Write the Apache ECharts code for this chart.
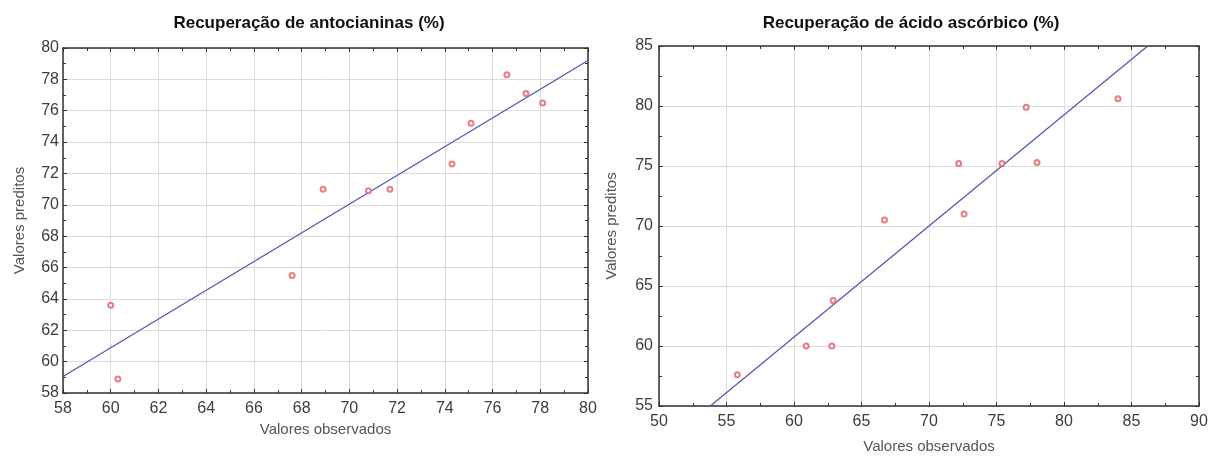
<!DOCTYPE html>
<html>
<head>
<meta charset="utf-8">
<script src="https://cdn.jsdelivr.net/npm/echarts@6/dist/echarts.min.js"></script>
<style>
  html, body { margin: 0; padding: 0; background: #ffffff; }
  #chart { width: 1213px; height: 464px; }
</style>
</head>
<body>
<div id="chart"></div>
<script>
// Recuperação de antocianinas: observed vs predicted
const antObs  = [60.0, 60.3, 67.6, 68.9, 70.8, 71.7, 74.3, 75.1, 76.6, 77.4, 78.1];
const antPred = [63.6, 58.9, 65.5, 71.0, 70.9, 71.0, 72.6, 75.2, 78.3, 77.1, 76.5];
const antFitX = [58, 80];
const antFitY = [59.05, 79.2];

// Recuperação de ácido ascórbico: observed vs predicted
const ascObs  = [55.8, 60.9, 62.8, 62.9, 66.7, 72.2, 72.6, 75.4, 77.2, 78.0, 84.0];
const ascPred = [57.6, 60.0, 60.0, 63.8, 70.5, 75.2, 71.0, 75.2, 79.9, 75.3, 80.6];
const ascFitX = [53.8, 86.2];
const ascFitY = [55, 85];

// Axis ranges
const antRange = { min: 58, max: 80, step: 2 };
const ascXRange = { min: 50, max: 90, step: 5 };
const ascYRange = { min: 55, max: 85, step: 5 };

const titles = ['Recuperação de antocianinas (%)', 'Recuperação de ácido ascórbico (%)'];
const xName = 'Valores observados';
const yName = 'Valores preditos';

const FONT = '"Liberation Sans", Arial, sans-serif';
const frameColor = '#333333';
const gridColor = '#dcdcdc';
const pointColor = '#e25c6a';
const fitColor = '#5252b4';

function zip(xs, ys) { return xs.map((x, i) => [x, ys[i]]); }

function mainAxis(range, opts) {
  return Object.assign({
    type: 'value',
    min: range.min, max: range.max, interval: range.step,
    axisLine: { show: true, onZero: false, lineStyle: { color: frameColor, width: 1.5 } },
    axisTick: { show: true, inside: true, length: 4, lineStyle: { color: frameColor } },
    minorTick: { show: true, splitNumber: 2, length: 3, lineStyle: { color: frameColor } },
    splitLine: { show: true, lineStyle: { color: gridColor, width: 1 } },
    nameLocation: 'middle',
    nameTextStyle: { color: '#555555', fontFamily: FONT, fontSize: 15 }
  }, opts);
}

function mirrorAxis(range, opts) {
  return Object.assign({
    type: 'value',
    min: range.min, max: range.max, interval: range.step,
    axisLine: { show: true, onZero: false, lineStyle: { color: frameColor, width: 1.5 } },
    axisTick: { show: true, inside: true, length: 4, lineStyle: { color: frameColor } },
    minorTick: { show: true, splitNumber: 2, length: 3, lineStyle: { color: frameColor } },
    splitLine: { show: false },
    axisLabel: { show: false }
  }, opts);
}

function tickLabel(margin) {
  return { color: '#3c3c3c', fontFamily: FONT, fontSize: 16, margin: margin };
}

const titleStyle = { fontFamily: FONT, fontSize: 17, fontWeight: 'bold', color: '#111111' };

const option = {
  backgroundColor: '#ffffff',
  animation: false,
  title: [
    { text: titles[0], left: 304, top: 10, textAlign: 'center', textStyle: titleStyle },
    { text: titles[1], left: 906, top: 10, textAlign: 'center', textStyle: titleStyle }
  ],
  grid: [
    { left: 63, top: 48, width: 525, height: 345, show: false },
    { left: 659, top: 46, width: 540, height: 360, show: false }
  ],
  xAxis: [
    mainAxis(antRange, { gridIndex: 0, position: 'bottom', name: xName, nameGap: 28, axisLabel: tickLabel(8) }),
    mirrorAxis(antRange, { gridIndex: 0, position: 'top' }),
    mainAxis(ascXRange, { gridIndex: 1, position: 'bottom', name: xName, nameGap: 33, axisLabel: tickLabel(8) }),
    mirrorAxis(ascXRange, { gridIndex: 1, position: 'top' })
  ],
  yAxis: [
    mainAxis(antRange, { gridIndex: 0, position: 'left', name: yName, nameGap: 36, axisLabel: tickLabel(4) }),
    mirrorAxis(antRange, { gridIndex: 0, position: 'right' }),
    mainAxis(ascYRange, { gridIndex: 1, position: 'left', name: yName, nameGap: 40, axisLabel: tickLabel(6) }),
    mirrorAxis(ascYRange, { gridIndex: 1, position: 'right' })
  ],
  series: [
    { type: 'line', xAxisIndex: 0, yAxisIndex: 0, data: zip(antFitX, antFitY),
      symbol: 'none', lineStyle: { color: fitColor, width: 1.2 }, silent: true, z: 2 },
    { type: 'scatter', xAxisIndex: 0, yAxisIndex: 0, data: zip(antObs, antPred),
      symbol: 'emptyCircle', symbolSize: 5,
      itemStyle: { color: pointColor, borderWidth: 1 }, z: 3 },
    { type: 'line', xAxisIndex: 2, yAxisIndex: 2, data: zip(ascFitX, ascFitY),
      symbol: 'none', lineStyle: { color: fitColor, width: 1.2 }, silent: true, z: 2 },
    { type: 'scatter', xAxisIndex: 2, yAxisIndex: 2, data: zip(ascObs, ascPred),
      symbol: 'emptyCircle', symbolSize: 5,
      itemStyle: { color: pointColor, borderWidth: 1 }, z: 3 }
  ]
};

const chart = echarts.init(document.getElementById('chart'), null, { renderer: 'canvas' });
chart.setOption(option);
</script>
</body>
</html>
